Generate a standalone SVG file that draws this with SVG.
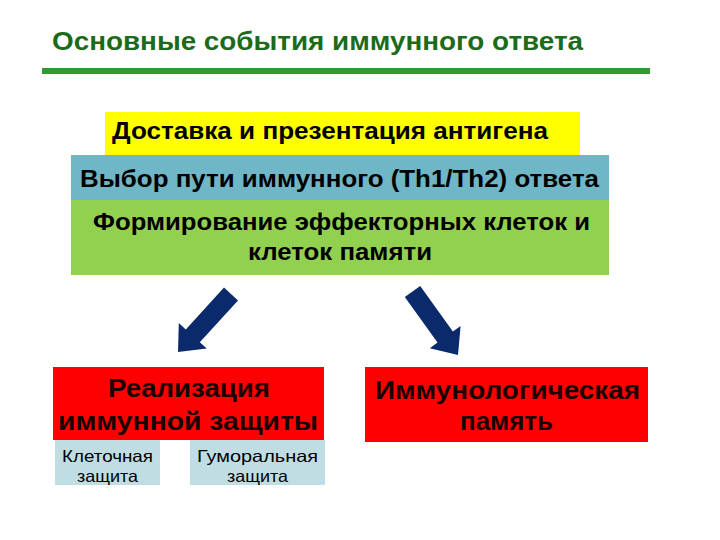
<svg xmlns="http://www.w3.org/2000/svg" width="720" height="540" viewBox="0 0 720 540">
<style>
  text { font-family: "Liberation Sans", Arial, sans-serif; font-weight: bold; fill: #000; }
  .title { font-size: 25px; fill: #1b6b1b; }
  .mid { font-size: 24.5px; }
  .big { font-size: 25px; fill: #1a0000; }
  .small { font-size: 16.5px; font-weight: normal; }
  .arrow { fill: #0b2a6b; }
</style>
<rect width="720" height="540" fill="#fff"/>
<g id="title">
  <text class="title" x="52" y="50" textLength="531" lengthAdjust="spacingAndGlyphs">Основные события иммунного ответа</text>
  <rect x="42" y="68" width="608" height="6" fill="#339933"/>
</g>
<g id="node-delivery">
  <rect x="105" y="112" width="475" height="43" fill="#ffff00"/>
  <text class="mid" x="112" y="139" textLength="436" lengthAdjust="spacingAndGlyphs">Доставка и презентация антигена</text>
</g>
<g id="node-choice">
  <rect x="71" y="155" width="538" height="45" fill="#6fb6c6"/>
  <text class="mid" x="339.5" y="187" text-anchor="middle" textLength="519" lengthAdjust="spacingAndGlyphs">Выбор пути иммунного (Th1/Th2) ответа</text>
</g>
<g id="node-formation">
  <rect x="71" y="200" width="538" height="75" fill="#92d050"/>
  <text class="mid" x="341.5" y="230" text-anchor="middle" textLength="497" lengthAdjust="spacingAndGlyphs">Формирование эффекторных клеток и</text>
  <text class="mid" x="340" y="260" text-anchor="middle" textLength="184" lengthAdjust="spacingAndGlyphs">клеток памяти</text>
</g>
<g id="connectors">
  <polygon class="arrow" points="224.0,287.6 185.8,329.4 178.8,323.0 178,352 206.8,348.6 199.8,342.2 238.0,300.4"/>
  <polygon class="arrow" points="420.2,286.0 452.9,331.6 460.6,326.0 458,355 429.8,348.2 437.5,342.6 404.8,297.0"/>
</g>
<g id="node-realization">
  <rect x="53" y="367" width="271" height="73" fill="#ff0000"/>
  <text class="big" x="189" y="397" text-anchor="middle" textLength="162" lengthAdjust="spacingAndGlyphs">Реализация</text>
  <text class="big" x="188" y="430" text-anchor="middle" textLength="260" lengthAdjust="spacingAndGlyphs">иммунной защиты</text>
</g>
<g id="node-memory">
  <rect x="365" y="367" width="283" height="75" fill="#ff0000"/>
  <text class="big" x="507.5" y="399" text-anchor="middle" textLength="265" lengthAdjust="spacingAndGlyphs">Иммунологическая</text>
  <text class="big" x="506.5" y="430" text-anchor="middle" textLength="93" lengthAdjust="spacingAndGlyphs">память</text>
</g>
<g id="node-cellular">
  <rect x="55" y="440" width="105" height="45" fill="#c0dde3"/>
  <text class="small" x="107.5" y="462" text-anchor="middle" textLength="91" lengthAdjust="spacingAndGlyphs">Клеточная</text>
  <text class="small" x="107.5" y="482" text-anchor="middle" textLength="61" lengthAdjust="spacingAndGlyphs">защита</text>
</g>
<g id="node-humoral">
  <rect x="190" y="440" width="135" height="45" fill="#c0dde3"/>
  <text class="small" x="257.5" y="462" text-anchor="middle" textLength="121" lengthAdjust="spacingAndGlyphs">Гуморальная</text>
  <text class="small" x="257.5" y="482" text-anchor="middle" textLength="61" lengthAdjust="spacingAndGlyphs">защита</text>
</g>
</svg>
